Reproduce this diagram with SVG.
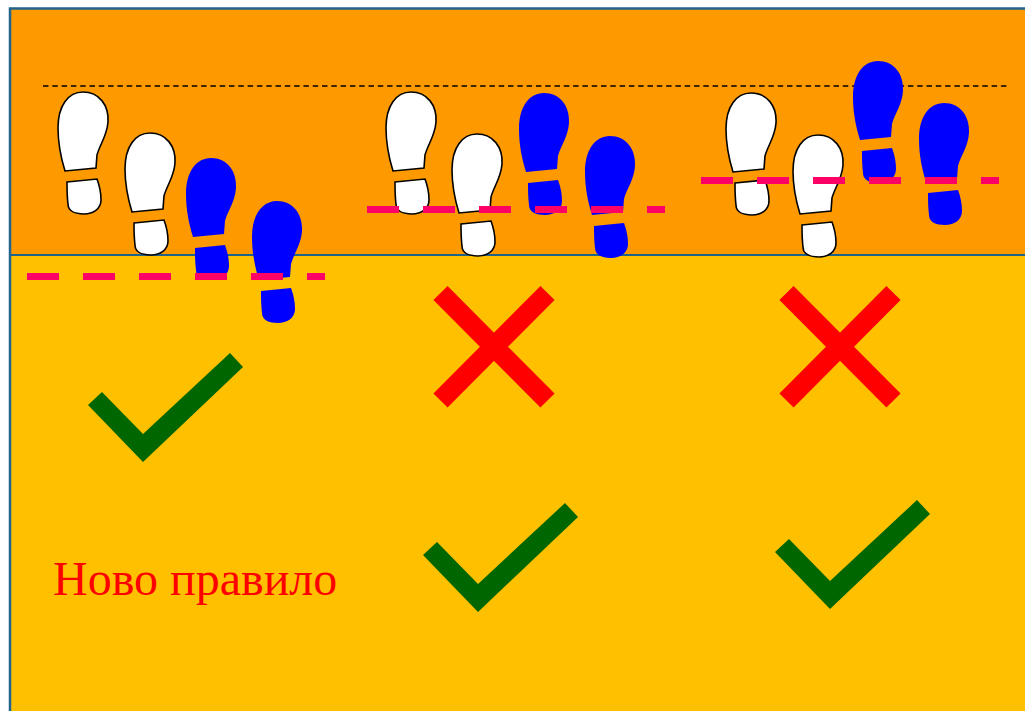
<svg xmlns="http://www.w3.org/2000/svg" xmlns:xlink="http://www.w3.org/1999/xlink" width="1025" height="711" viewBox="0 0 1025 711">
<style>
.w{fill:#FFFFFF;stroke:#000000;stroke-width:1.6}
.b{fill:#0000FF;stroke:none}
.pink{stroke:#FF0066;stroke-width:7;stroke-dasharray:32 24;fill:none}
.x{stroke:#FF0000;stroke-width:20;fill:none}
.chk{fill:#006600}
.lbl{font-family:"Liberation Serif","Times New Roman",serif;font-size:48px;fill:#FF0000}
</style>
<defs>
<g id="foot">
<path d="M25,0 C41,0 51,13 50,30 C49,44 42,52 39,63 L38,76 L7,79 C3,66 0,52 0,36 C0,14 10,0 25,0 Z"/>
<path d="M9,90 L39,87 C42,95 43,102 43,108 C43,117 35,122 26,122 C17,122 10,119 10,112 C9,104 9,97 9,90 Z"/>
</g>
<polygon id="check" points="88,405 102,392 143,434 230,353 243,367 143,462"/>
</defs>
<g id="background">
<rect x="10" y="8" width="1020" height="247" fill="#FE9A00"/>
<rect x="10" y="255" width="1020" height="460" fill="#FFC000"/>
<line x1="10" y1="255" x2="1025" y2="255" stroke="#1F6388" stroke-width="2.2"/>
<rect x="10" y="8.5" width="1030" height="720" fill="none" stroke="#21648F" stroke-width="2.5"/>
<line x1="43" y1="86" x2="1010" y2="86" stroke="#000000" stroke-width="1.3" stroke-dasharray="5.5 3.8"/>
</g>
<g id="group1">
<use xlink:href="#foot" href="#foot" class="w" x="58" y="92"/>
<use xlink:href="#foot" href="#foot" class="w" x="125" y="133"/>
<use xlink:href="#foot" href="#foot" class="b" x="186" y="158"/>
<use xlink:href="#foot" href="#foot" class="b" x="252" y="201"/>
<line class="pink" x1="27" y1="276.5" x2="325" y2="276.5"/>
</g>
<g id="group2">
<use xlink:href="#foot" href="#foot" class="w" x="386" y="92"/>
<use xlink:href="#foot" href="#foot" class="w" x="452" y="134"/>
<use xlink:href="#foot" href="#foot" class="b" x="519" y="93"/>
<use xlink:href="#foot" href="#foot" class="b" x="585" y="136"/>
<line class="pink" x1="367" y1="209.5" x2="665" y2="209.5"/>
</g>
<g id="group3">
<use xlink:href="#foot" href="#foot" class="w" x="726" y="93"/>
<use xlink:href="#foot" href="#foot" class="w" x="793" y="135"/>
<use xlink:href="#foot" href="#foot" class="b" x="853" y="61"/>
<use xlink:href="#foot" href="#foot" class="b" x="919" y="103"/>
<line class="pink" x1="701" y1="180.5" x2="999" y2="180.5"/>
</g>
<g id="check1"><use xlink:href="#check" href="#check" class="chk"/></g>
<g id="cross1">
<line class="x" x1="440.5" y1="293" x2="547.5" y2="400.5"/>
<line class="x" x1="547.5" y1="293" x2="440.5" y2="400.5"/>
</g>
<g id="cross2">
<line class="x" x1="786.5" y1="293" x2="893.5" y2="400.5"/>
<line class="x" x1="893.5" y1="293" x2="786.5" y2="400.5"/>
</g>
<g id="check2"><use xlink:href="#check" href="#check" class="chk" x="335" y="150"/></g>
<g id="check3"><use xlink:href="#check" href="#check" class="chk" x="687" y="147"/></g>
<g id="label"><text class="lbl" x="53" y="595">Ново правило</text></g>
</svg>
